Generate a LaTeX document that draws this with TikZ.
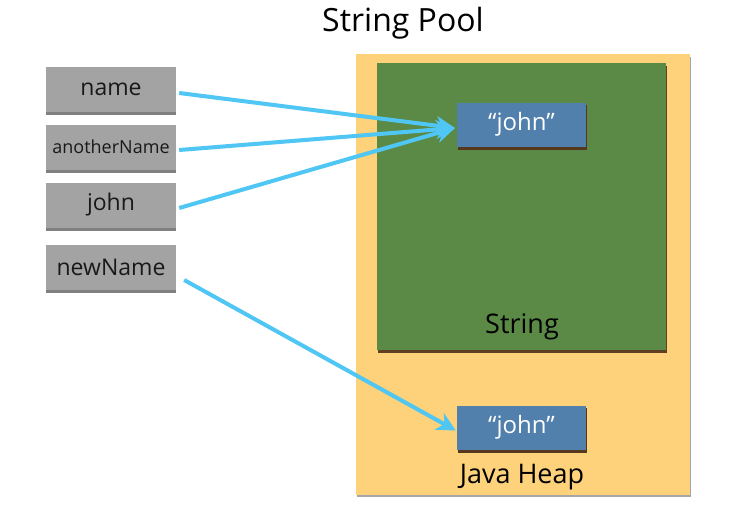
\documentclass[tikz,border=0pt]{standalone}
\usepackage{fontspec}
\setmainfont{Open Sans}
\usetikzlibrary{arrows.meta}
\definecolor{heap}{HTML}{FDD27A}
\definecolor{pool}{HTML}{5B8A47}
\definecolor{strbox}{HTML}{5180AC}
\definecolor{varbox}{HTML}{A3A3A3}
\definecolor{arrowc}{HTML}{4FC6F4}
\tikzset{
  varnode/.style={fill=varbox, draw=none, minimum width=130pt, minimum height=45pt, inner sep=0pt, font=\fontsize{23}{26}\selectfont, text=black!90},
  strnode/.style={fill=strbox, draw=none, minimum width=129pt, minimum height=44pt, inner sep=0pt, font=\fontsize{24}{26}\selectfont, text=white},
  link/.style={draw=arrowc, line width=4pt, -{Stealth[length=19pt,width=19pt,inset=6pt]}},
}
\begin{document}
\begin{tikzpicture}[x=1pt,y=-1pt]
\useasboundingbox (0,0) rectangle (751,504);
\fill[white] (0,0) rectangle (751,504);
\node[font=\fontsize{32}{36}\selectfont] (title) at (403,23) {String Pool};
% heap
\fill[black!35] (357,57) rectangle (691,497);
\fill[heap] (356,54) rectangle (690,495);
\node (heapbox) at (523,274.5) [minimum width=334pt, minimum height=441pt, inner sep=0pt] {};
% pool
\fill[black!50!brown] (378,66) rectangle (667,353);
\fill[pool] (377,63) rectangle (666,350);
\node[font=\fontsize{27}{30}\selectfont] (strlabel) at (522,327) {String};
\node[font=\fontsize{27}{30}\selectfont] (heaplabel) at (522,477) {Java Heap};
% string objects
\fill[black!55!brown] (458,105) rectangle (587,150);
\node[strnode] (s1) at (521.5,124.5) {“john”};
\fill[black!55!brown] (458,408) rectangle (587,453);
\node[strnode] (s2) at (521.5,427.5) {“john”};
% variables
\foreach \y in {67,125,183,245}{
  \fill[black!50] (46,\y+42) rectangle (176,\y+48);
}
\node[varnode] (v1) at (111,89) {name};
\node[varnode, font=\fontsize{18}{20}\selectfont] (v2) at (111,147) {anotherName};
\node[varnode] (v3) at (111,205) {john};
\node[varnode] (v4) at (111,267) {newName};
% arrows
\coordinate (t1) at (455,128);
\draw[link] ([xshift=3pt,yshift=-4pt]v1.east) -- (t1);
\draw[link] ([xshift=3pt,yshift=-3pt]v2.east) -- (t1);
\draw[link] ([xshift=3pt,yshift=-3pt]v3.east) -- (t1);
\draw[link] ([xshift=8pt,yshift=-13pt]v4.east) -- ([xshift=-1pt,yshift=-3pt]s2.west);
\end{tikzpicture}
\end{document}
